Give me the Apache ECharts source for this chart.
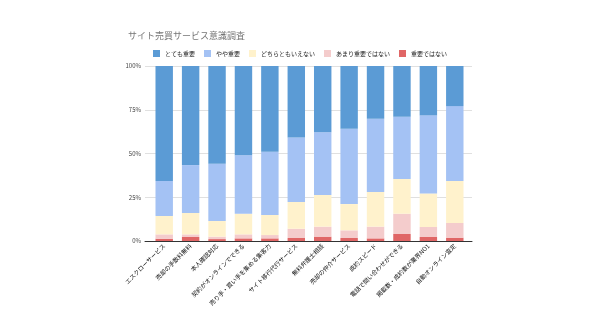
<!DOCTYPE html>
<html>
<head>
<meta charset="utf-8">
<script src="https://cdn.jsdelivr.net/npm/echarts@6/dist/echarts.min.js"></script>
<style>html,body{margin:0;padding:0;background:#fff;}#c{width:600px;height:325px;}</style>
</head>
<body>
<div id="c"></div>
<script>
const categories = ["エスクローサービス","売却の手数料無料","本人確認対応","契約がオンラインでできる","売り手・買い手を集める集客力","サイト移行代行サービス","無料弁護士相談","売却の仲介サービス","成約スピード","電話で問い合わせができる","掲載数・成約数が業界NO1","自動オンライン査定"];
const veryImportant   = [65.7,56.6,55.8,51.0,49.0,40.8,37.9,35.8,30.1,29.0,28.2,22.9];
const fairlyImportant = [20.0,27.4,32.8,33.4,36.1,36.9,35.8,43.1,41.9,35.6,44.6,42.8];
const neutral         = [10.5,12.2,8.9,11.8,11.5,15.3,18.1,15.0,19.8,19.8,19.2,24.0];
const notVery         = [2.5,1.5,1.4,2.3,1.9,5.3,5.7,4.4,6.7,11.6,5.7,8.4];
const notImportant    = [1.3,2.3,1.1,1.5,1.5,1.7,2.5,1.7,1.5,4.0,2.3,1.9];
const seriesNames = ["とても重要","やや重要","どちらともいえない","あまり重要ではない","重要ではない"];
const yTicks = [0,25,50,75,100];

const colors = {"とても重要":"#5b9bd5","やや重要":"#a4c2f4","どちらともいえない":"#fff2cc","あまり重要ではない":"#f4cccc","重要ではない":"#e06666"};
const dataMap = {"とても重要":veryImportant,"やや重要":fairlyImportant,"どちらともいえない":neutral,"あまり重要ではない":notVery,"重要ではない":notImportant};
const font = '"Noto Sans CJK JP", "Noto Sans", sans-serif';
const stackOrder = seriesNames.slice().reverse();
const yMin = yTicks[0], yMax = yTicks[yTicks.length-1];

const chart = echarts.init(document.getElementById('c'), null, {renderer:'canvas'});
chart.setOption({
  animation:false,
  textStyle:{fontFamily:font},
  title:{text:'サイト売買サービス意識調査',left:123,top:26,textStyle:{fontSize:9,fontWeight:'normal',color:'#757575',fontFamily:font}},
  legend:{data:seriesNames,top:45,left:'center',icon:'rect',itemWidth:7,itemHeight:7,itemGap:9,textStyle:{fontSize:6,color:'#222',fontFamily:font}},
  grid:[
    {left:145,right:128,top:66,bottom:84,containLabel:false},
    {left:151,right:132,top:66,bottom:84,containLabel:false}
  ],
  xAxis:[
    {type:'category',gridIndex:0,data:categories,axisTick:{show:false},axisLabel:{show:false},axisLine:{lineStyle:{color:'#333'}},z:5},
    {type:'category',gridIndex:1,data:categories,axisTick:{show:false},axisLine:{show:false},
      axisLabel:{interval:0,rotate:45,fontSize:6,color:'#111',margin:4,fontFamily:font}}
  ],
  yAxis:[
    {type:'value',gridIndex:0,min:yMin,max:yMax,interval:25,axisLine:{show:false},axisTick:{show:false},
      axisLabel:{formatter:'{value}%',fontSize:6,color:'#444',margin:4,fontFamily:font},
      splitLine:{lineStyle:{color:'#e0e0e0'}}},
    {type:'value',gridIndex:1,min:yMin,max:yMax,interval:25,show:false,splitLine:{show:false}}
  ],
  series:stackOrder.map(n=>({name:n,type:'bar',xAxisIndex:1,yAxisIndex:1,stack:'s',data:dataMap[n],barCategoryGap:'34%',itemStyle:{color:colors[n]}}))
});
</script>
</body>
</html>
